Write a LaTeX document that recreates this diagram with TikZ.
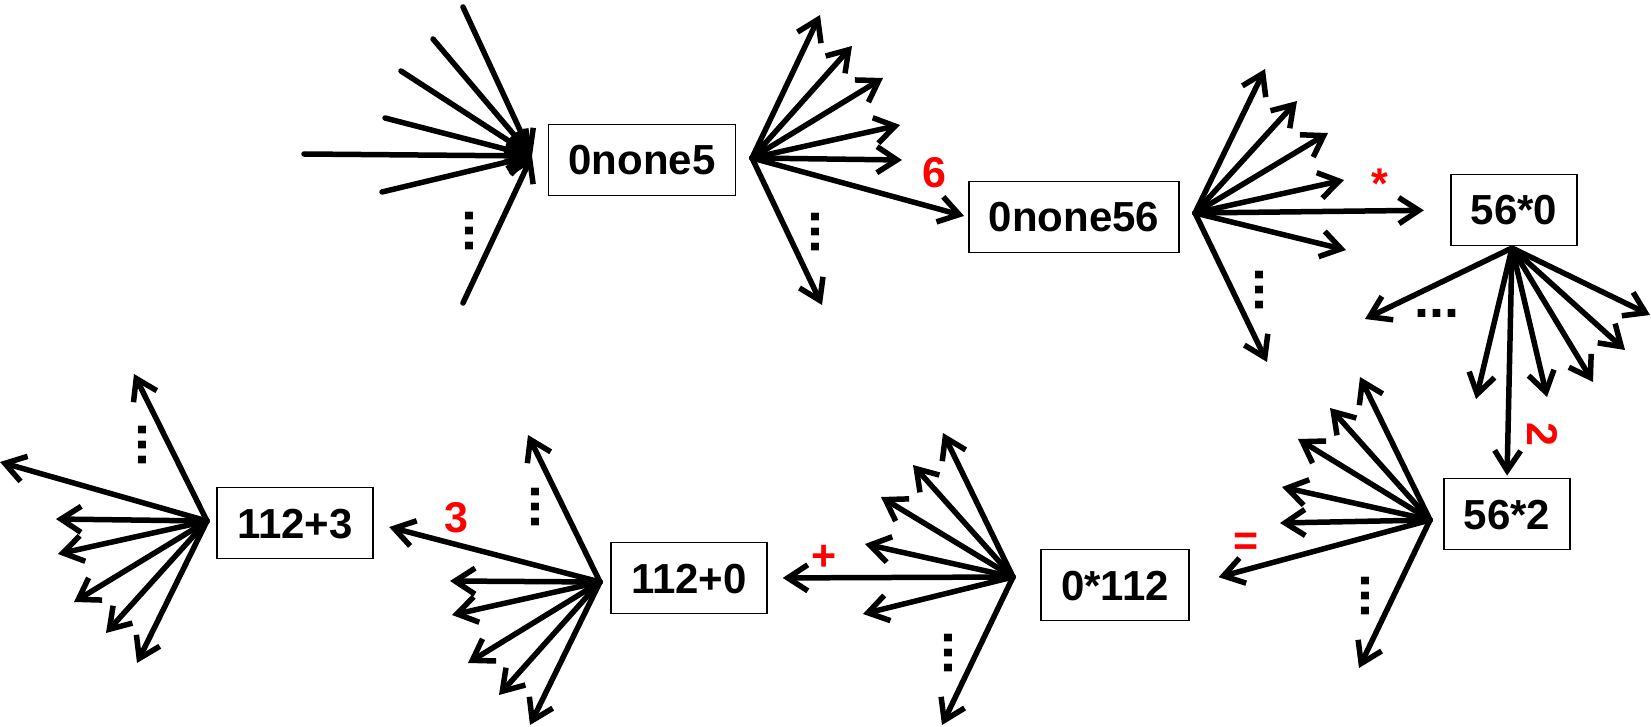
\documentclass[tikz,border=0pt]{standalone}
\usepackage{fontspec}
\setmainfont{Liberation Sans}
\usetikzlibrary{arrows.meta}
\begin{document}
\begin{tikzpicture}[x=1pt,y=-1pt,
  arr/.style={line width=5.5pt, line cap=round, -{Straight Barb[length=20pt,width=26pt,line width=5.5pt]}},
  box/.style={draw, line width=1.8pt, minimum height=71pt, inner xsep=20pt, inner ysep=0pt,
    text height=30pt, text depth=0pt, font=\fontsize{42}{42}\selectfont\bfseries},
  lab/.style={text=red, inner sep=0pt, font=\fontsize{43}{43}\selectfont\bfseries},
  vdotsn/.style={rotate=90, inner sep=0pt, font=\fontsize{54}{54}\selectfont\bfseries},
  hdotsn/.style={inner sep=0pt, font=\fontsize{54}{54}\selectfont\bfseries}]
\useasboundingbox (0,0) rectangle (1651,727);

% boxes
\node[box] (n1) at (642,160) {0none5};
\node[box] (n2) at (1074,217) {0none56};
\node[box] (n3) at (1514,210) {56*0};
\node[box] (n4) at (1507,514) {56*2};
\node[box] (n5) at (1115,585) {0*112};
\node[box] (n6) at (689,578) {112+0};
\node[box] (n7) at (295,523) {112+3};

% fan centres
\coordinate (f1) at (532,156);
\coordinate (f2) at (752,158);
\coordinate (f3) at (1195,213);
\coordinate (f4) at (1512,248);
\coordinate (f5) at (1430,520);
\coordinate (f6) at (1013,577);
\coordinate (f7) at (600,582);
\coordinate (f8) at (207,521);

% fan A (incoming)
\foreach \x/\y [count=\i] in {463/7,433/39,401/71,385/118,304/154,382/192,463/303}{
  \coordinate (a\i) at (\x,\y);
  \draw[arr] (a\i) -- (f1);
}
\node[vdotsn] (dA) at (469,231) {...};

% fan B
\foreach \x/\y [count=\i] in {820/15,852/46,883/78,900/125,902/160,822/305}{
  \coordinate (b\i) at (\x,\y);
  \draw[arr] (f2) -- (b\i);
}
\draw[arr, shorten >=4pt] (f2) -- (n2.west);
\node[vdotsn] (dB) at (815,232) {...};
\node[lab] (l6) at (934,173) {6};

% fan C
\foreach \x/\y [count=\i] in {1265/69,1297/101,1328/133,1344/180,1346/250,1267/362}{
  \coordinate (c\i) at (\x,\y);
  \draw[arr] (f3) -- (c\i);
}
\draw[arr, shorten >=26pt] (f3) -- (n3.west);
\node[vdotsn] (dC) at (1259,290) {...};
\node[lab] (lstar) at (1380,184) {*};

% fan D
\foreach \x/\y [count=\i] in {1365/319,1476/399,1547/397,1593/382,1625/350,1650/315}{
  \coordinate (d\i) at (\x,\y);
  \draw[arr] (f4) -- (d\i);
}
\draw[arr, shorten >=2pt] (f4) -- (n4.north);
\node[hdotsn] (dD) at (1437,313) {...};
\node[lab, rotate=-90] (l2) at (1542,434) {2};

% fan E
\foreach \x/\y [count=\i] in {1360/377,1330/408,1298/439,1282/487,1280/523,1359/668}{
  \coordinate (e\i) at (\x,\y);
  \draw[arr] (f5) -- (e\i);
}
\draw[arr, shorten >=30pt] (f5) -- (n5.east);
\node[vdotsn] (dE) at (1365,596) {...};
\node[lab] (leq) at (1246,544) {=};

% fan F
\foreach \x/\y [count=\i] in {943/433,913/465,881/497,865/544,863/614,942/725}{
  \coordinate (g\i) at (\x,\y);
  \draw[arr] (f6) -- (g\i);
}
\draw[arr, shorten >=15pt] (f6) -- (n6.east);
\node[vdotsn] (dF) at (948,653) {...};
\node[lab] (lplus) at (824,558) {+};

% fan G
\foreach \x/\y [count=\i] in {528/435,450/581,452/615,468/663,499/695,530/725}{
  \coordinate (h\i) at (\x,\y);
  \draw[arr] (f7) -- (h\i);
}
\draw[arr, shorten >=16pt] (f7) -- (n7.east);
\node[vdotsn] (dG) at (535,507) {...};
\node[lab] (l3) at (456,518) {3};

% fan H
\foreach \x/\y [count=\i] in {134/374,0/462,56/519,58/554,74/602,106/633,137/663}{
  \coordinate (k\i) at (\x,\y);
  \draw[arr] (f8) -- (k\i);
}
\node[vdotsn] (dH) at (142,445) {...};
\end{tikzpicture}
\end{document}
